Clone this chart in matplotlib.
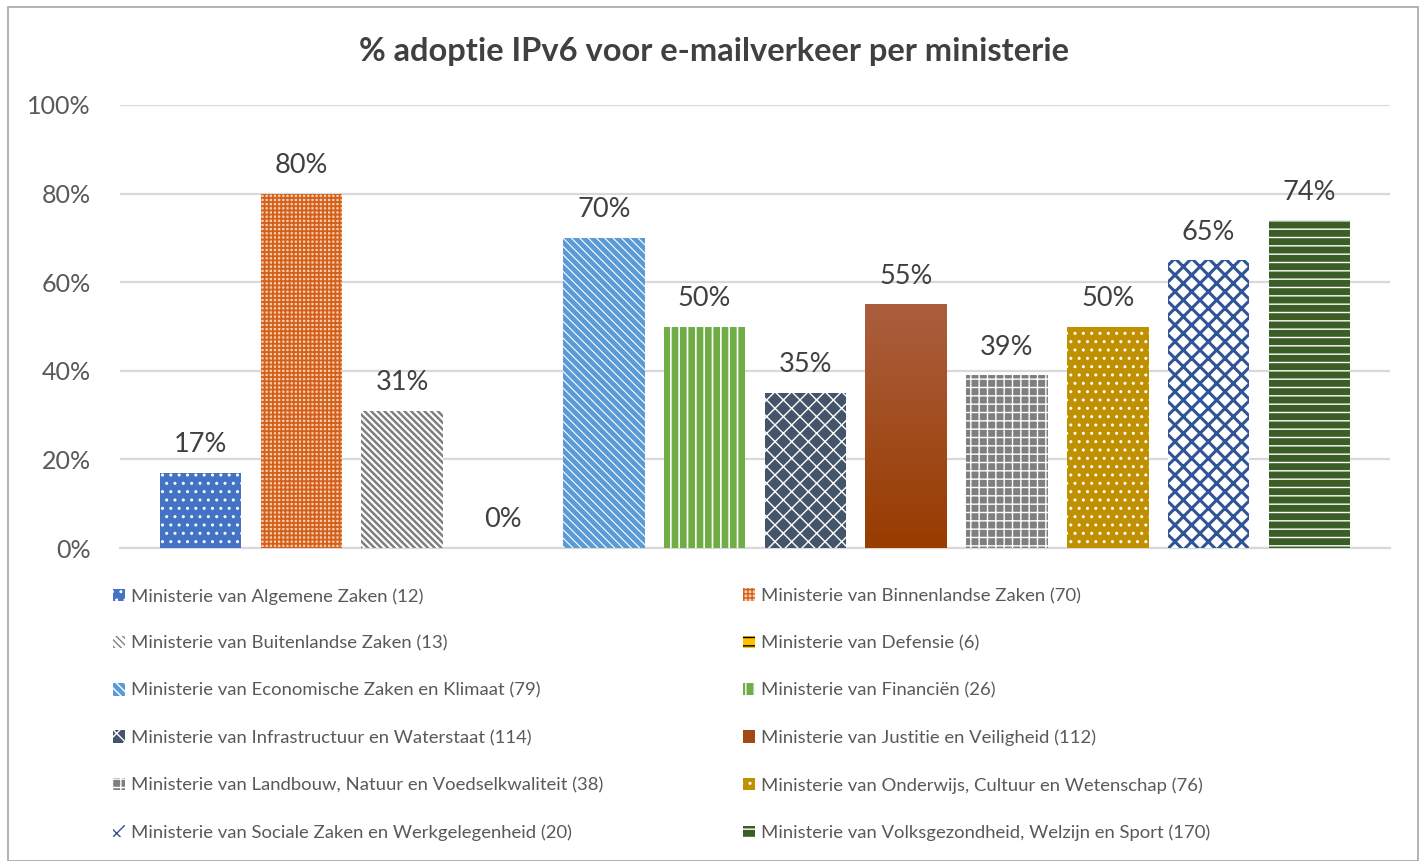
import matplotlib
matplotlib.use("Agg")
import matplotlib.pyplot as plt
import numpy as np
from matplotlib.patches import Rectangle, Patch
from matplotlib.colors import LinearSegmentedColormap

plt.rcParams['font.family'] = ['Lato', 'DejaVu Sans']

title = "% adoptie IPv6 voor e-mailverkeer per ministerie"
ministries = [
    "Ministerie van Algemene Zaken (12)",
    "Ministerie van Binnenlandse Zaken (70)",
    "Ministerie van Buitenlandse Zaken (13)",
    "Ministerie van Defensie (6)",
    "Ministerie van Economische Zaken en Klimaat (79)",
    "Ministerie van Financiën (26)",
    "Ministerie van Infrastructuur en Waterstaat (114)",
    "Ministerie van Justitie en Veiligheid (112)",
    "Ministerie van Landbouw, Natuur en Voedselkwaliteit (38)",
    "Ministerie van Onderwijs, Cultuur en Wetenschap (76)",
    "Ministerie van Sociale Zaken en Werkgelegenheid (20)",
    "Ministerie van Volksgezondheid, Welzijn en Sport (170)",
]
values = [17, 80, 31, 0, 70, 50, 35, 55, 39, 50, 65, 74]
yticks = [0, 20, 40, 60, 80, 100]
ytick_labels = ["0%", "20%", "40%", "60%", "80%", "100%"]

# style: (facecolor, hatch colour, hatch, hatch linewidth)
styles = [
    ("#4472C4", "white", "..", 1.0),
    ("#F8CBAD", "#D2601A", "++++", 1.3),
    ("white", "#7F7F7F", "\\\\\\\\\\", 1.8),
    ("#FFC000", "black", "--", 1.5),
    ("#5B9BD5", "white", "\\\\\\\\", 0.8),
    ("#70AD47", "white", "||", 1.2),
    ("#44546A", "white", "xx", 1.0),
    ("#A24A14", "#A24A14", "", 1.0),
    ("#7F7F7F", "white", "++", 1.0),
    ("#BF9000", "white", "..", 1.0),
    ("white", "#2F5597", "xx", 2.2),
    ("#3B5E27", "white", "--", 1.0),
]

W, H = 1424, 861
fig = plt.figure(figsize=(W / 100, H / 100), dpi=100)
ax = fig.add_axes([120 / W, 1 - 548 / H, (1390 - 120) / W, (548 - 105) / H])

x = np.arange(len(values))
bars = []
for i, (v, (fc, hc, h, hlw)) in enumerate(zip(values, styles)):
    plt.rcParams['hatch.linewidth'] = hlw
    b = ax.bar(x[i], v, width=0.81, color=fc, edgecolor=hc, hatch=h, linewidth=0, zorder=3)
    if hasattr(b[0], 'set_hatch_linewidth'):
        b[0].set_hatch_linewidth(hlw)
    bars.append(b[0])

# gradient for Justitie bar
jb = bars[7]
grad = np.linspace(0, 1, 100).reshape(-1, 1)
cm = LinearSegmentedColormap.from_list("g", ["#983C00", "#AB5E3E"])
im = ax.imshow(grad, cmap=cm, aspect='auto', origin='lower',
               extent=[jb.get_x(), jb.get_x() + jb.get_width(), 0, values[7]], zorder=3.5)
im.set_clip_path(jb)

for i, v in enumerate(values):
    ax.text(x[i], v + 3.5, f"{v}%", ha='center', va='bottom', fontsize=19.5, color='#404040', zorder=5)

ax.set_ylim(0, 100)
ax.set_xlim(-0.8, 11.8)
ax.set_yticks(yticks)
ax.set_yticklabels(ytick_labels, fontsize=18, color='#595959')
ax.set_xticks([])
ax.tick_params(axis='y', length=0, pad=21)
ax.grid(axis='y', color='#D9D9D9', linewidth=1.6, zorder=0)
for s in ['top', 'right', 'left']:
    ax.spines[s].set_visible(False)
ax.spines['bottom'].set_color('#D9D9D9')
ax.spines['bottom'].set_linewidth(1.6)
ax.set_axisbelow(True)

fig.text(714 / W, 1 - 52 / H, title, ha='center', va='center', fontsize=23.5,
         fontweight='bold', color='#404040')

handles = []
for (fc, hc, h, hlw), lab in zip(styles, ministries):
    plt.rcParams['hatch.linewidth'] = hlw
    handles.append(Patch(facecolor=fc, edgecolor=hc, hatch=h, linewidth=0, label=lab))

col1 = list(range(0, 12, 2))
col2 = list(range(1, 12, 2))
legkw = dict(loc='upper left', frameon=False, fontsize=13.3, labelcolor='#595959',
             handlelength=0.65, handleheight=0.65, handletextpad=0.3,
             labelspacing=1.68, borderaxespad=0, borderpad=0)
leg1 = fig.legend([handles[i] for i in col1], [ministries[i] for i in col1],
                  bbox_to_anchor=(113 / W, 1 - 588 / H), **legkw)
leg2 = fig.legend([handles[i] for i in col2], [ministries[i] for i in col2],
                  bbox_to_anchor=(743 / W, 1 - 588 / H), **legkw)

# outer border
fig.add_artist(Rectangle((8 / W, 0), (1418 - 8) / W, 1 - 7 / H, transform=fig.transFigure,
                         fill=False, edgecolor='#A6A6A6', linewidth=1.2))

fig.savefig("out.png", dpi=100, facecolor='white')
